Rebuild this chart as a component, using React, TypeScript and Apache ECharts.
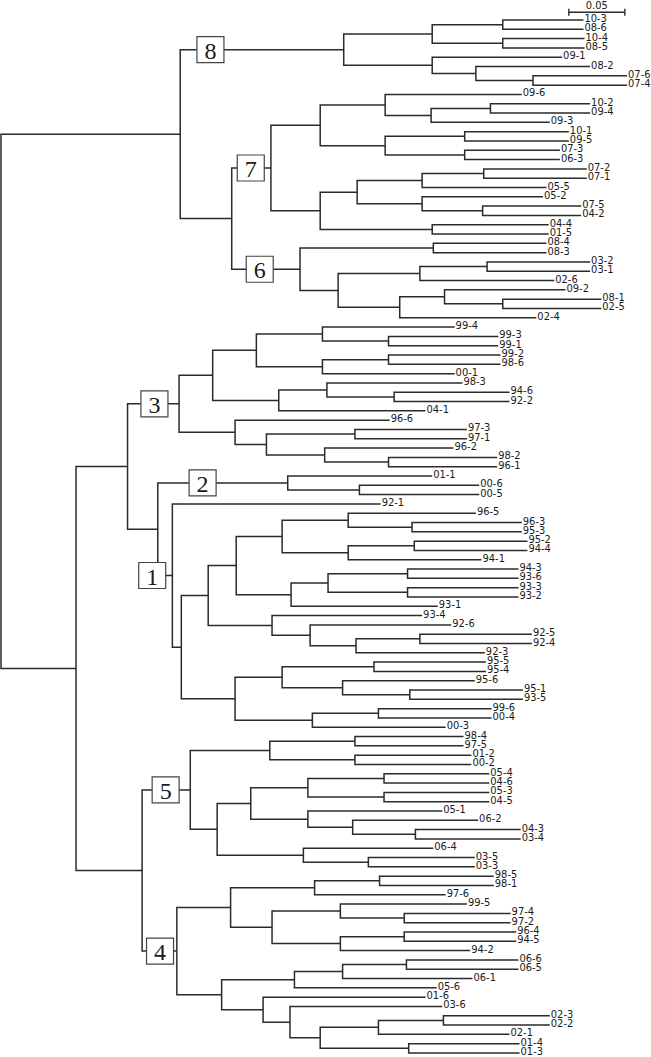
import React, { useEffect, useRef } from "react";
import * as echarts from "echarts";

// Leaf: [label, depth]; internal node: [childA, childB, depth] (depth = distance from root)
const clade8: any = [
  [[["10-3", 0.52], ["08-6", 0.52], 0.448], [["10-4", 0.521], ["08-5", 0.521], 0.448], 0.385],
  [["09-1", 0.501], [["08-2", 0.526], [["07-6", 0.559], ["07-4", 0.559], 0.475], 0.424], 0.385],
  0.306,
];

const clade7: any = [
  [
    [["09-6", 0.465], [[["10-2", 0.526], ["09-4", 0.526], 0.437], ["09-3", 0.49], 0.384], 0.343],
    [[["10-1", 0.507], ["09-5", 0.507], 0.414], [["07-3", 0.499], ["06-3", 0.499], 0.414], 0.343],
    0.285,
  ],
  [
    [
      [[["07-2", 0.523], ["07-1", 0.523], 0.431], ["05-5", 0.487], 0.376],
      [["05-2", 0.484], [["07-5", 0.518], ["04-2", 0.518], 0.43], 0.376],
      0.318,
    ],
    [["04-4", 0.489], ["01-5", 0.489], 0.385],
    0.285,
  ],
  0.241,
];

const clade6: any = [
  [["08-4", 0.487], ["08-3", 0.487], 0.386],
  [
    [[["03-2", 0.526], ["03-1", 0.526], 0.434], ["02-6", 0.494], 0.374],
    [[["09-2", 0.504], [["08-1", 0.536], ["02-5", 0.536], 0.448], 0.396], ["02-4", 0.478], 0.356],
    0.301,
  ],
  0.267,
];

const clade3: any = [
  [
    [
      [["99-4", 0.405], [["99-3", 0.444], ["99-1", 0.444], 0.346], 0.287],
      [[["99-2", 0.446], ["98-6", 0.446], 0.346], ["00-1", 0.405], 0.287],
      0.228,
    ],
    [[["98-3", 0.412], [["94-6", 0.454], ["92-2", 0.454], 0.351], 0.291], ["04-1", 0.379], 0.248],
    0.189,
  ],
  [
    ["96-6", 0.347],
    [
      [["97-3", 0.416], ["97-1", 0.416], 0.316],
      [["96-2", 0.404], [["98-2", 0.443], ["96-1", 0.443], 0.346], 0.289],
      0.237,
    ],
    0.209,
  ],
  0.159,
];

const clade2: any = [["01-1", 0.385], [["00-6", 0.427], ["00-5", 0.427], 0.32], 0.256];

const clade1: any = [
  ["92-1", 0.339],
  [
    [
      [
        [
          [["96-5", 0.424], [["96-3", 0.465], ["95-3", 0.465], 0.367], 0.31],
          [[["95-2", 0.47], ["94-4", 0.47], 0.369], ["94-1", 0.429], 0.31],
          0.251,
        ],
        [
          [[["94-3", 0.462], ["93-6", 0.462], 0.363], [["93-3", 0.462], ["93-2", 0.462], 0.363], 0.292],
          ["93-1", 0.39],
          0.259,
        ],
        0.21,
      ],
      [
        ["93-4", 0.376],
        [["92-6", 0.402], [[["92-5", 0.474], ["92-4", 0.474], 0.374], ["92-3", 0.432], 0.317], 0.276],
        0.242,
      ],
      0.185,
    ],
    [
      [
        [["95-5", 0.433], ["95-4", 0.433], 0.333],
        [["95-6", 0.423], [["95-1", 0.466], ["93-5", 0.466], 0.365], 0.305],
        0.251,
      ],
      [[["99-6", 0.438], ["00-4", 0.438], 0.337], ["00-3", 0.397], 0.278],
      0.209,
    ],
    0.161,
  ],
  0.153,
];

const clade5: any = [
  [[["98-4", 0.413], ["97-5", 0.413], 0.316], [["01-2", 0.42], ["00-2", 0.42], 0.316], 0.24],
  [
    [
      [[["05-4", 0.436], ["04-6", 0.436], 0.342], [["05-3", 0.436], ["04-5", 0.436], 0.342], 0.274],
      [["05-1", 0.394], [["06-2", 0.426], [["04-3", 0.464], ["03-4", 0.464], 0.37], 0.314], 0.274],
      0.223,
    ],
    [["06-4", 0.386], [["03-5", 0.423], ["03-3", 0.423], 0.328], 0.27],
    0.193,
  ],
  0.169,
];

const clade4: any = [
  [
    [[["98-5", 0.44], ["98-1", 0.44], 0.338], ["97-6", 0.397], 0.28],
    [
      [["99-5", 0.416], [["97-4", 0.455], ["97-2", 0.455], 0.36], 0.303],
      [[["96-4", 0.46], ["94-5", 0.46], 0.36], ["94-2", 0.419], 0.303],
      0.242,
    ],
    0.205,
  ],
  [
    [[[["06-6", 0.462], ["06-5", 0.462], 0.362], ["06-1", 0.421], 0.305], ["05-6", 0.389], 0.262],
    [
      ["01-6", 0.379],
      [
        ["03-6", 0.394],
        [
          [[["02-3", 0.49], ["02-2", 0.49], 0.395], ["02-1", 0.454], 0.337],
          [["01-4", 0.463], ["01-3", 0.463], 0.364],
          0.285,
        ],
        0.258,
      ],
      0.234,
    ],
    0.197,
  ],
  0.157,
];

const nodeA: any = [clade8, [clade7, clade6, 0.206], 0.16];
const nodeC: any = [clade3, [clade2, clade1, 0.14], 0.113];
const nodeE: any = [clade5, clade4, 0.126];
const nodeB: any = [nodeC, nodeE, 0.067];
const treeRoot: any = [nodeA, nodeB, 0];

const boxLabels = ["8", "7", "6", "3", "2", "1", "5", "4"];
const boxClades = [clade8, clade7, clade6, clade3, clade2, clade1, clade5, clade4];
const boxDepths = [0.187, 0.223, 0.231, 0.137, 0.18, 0.135, 0.147, 0.142];

const scaleBarLength = 0.05;
const scaleBarLabel = "0.05";

const isLeaf = (n: any) => typeof n[0] === "string";
const depthOf = (n: any) => (isLeaf(n) ? n[1] : n[2]);

function layoutTree(root: any) {
  const leaves: { label: string; depth: number; y: number }[] = [];
  const brackets: number[][] = [];
  const nodeY = new Map<any, number>();
  let counter = 0;
  const walk = (n: any): number => {
    if (isLeaf(n)) {
      const y = counter++;
      leaves.push({ label: n[0], depth: n[1], y });
      nodeY.set(n, y);
      return y;
    }
    const ya = walk(n[0]);
    const yb = walk(n[1]);
    const y = (ya + yb) / 2;
    brackets.push([n[2], ya, depthOf(n[0]), yb, depthOf(n[1])]);
    nodeY.set(n, y);
    return y;
  };
  walk(root);
  return { leaves, brackets, nodeY, count: counter };
}

export default function App() {
  const ref = useRef<HTMLDivElement>(null);
  useEffect(() => {
    if (!ref.current) return;
    const chart = echarts.init(ref.current, undefined, { renderer: "svg" });
    const { leaves, brackets, nodeY, count } = layoutTree(treeRoot);
    const lineColor = "#2b2b2b";
    const xMax = 0.58;
    const pxPerUnit = 1120;
    const rowPx = 9.306;
    const boxData = boxClades.map((c, i) => [boxDepths[i], nodeY.get(c) as number, i]);
    const scaleStart = 0.507;
    const scaleRow = -0.83;
    const labelFont = "'DejaVu Sans Condensed', 'DejaVu Sans', sans-serif";

    chart.setOption({
      animation: false,
      grid: { left: 1, top: 20, width: xMax * pxPerUnit, height: (count - 1) * rowPx },
      xAxis: { type: "value", min: 0, max: xMax, show: false, splitLine: { show: false } },
      yAxis: { type: "value", min: 0, max: count - 1, inverse: true, show: false, splitLine: { show: false } },
      series: [
        {
          type: "custom",
          z: 2,
          clip: false,
          data: brackets,
          renderItem: (params: any, api: any) => {
            const p = api.value(0);
            const ya = api.value(1);
            const xa = api.value(2);
            const yb = api.value(3);
            const xb = api.value(4);
            const pts = [api.coord([xa, ya]), api.coord([p, ya]), api.coord([p, yb]), api.coord([xb, yb])];
            return {
              type: "polyline",
              shape: { points: pts },
              style: { stroke: lineColor, lineWidth: 1.5, fill: "none" },
            };
          },
        },
        {
          type: "custom",
          z: 3,
          clip: false,
          data: leaves.map((l) => [l.depth, l.y]),
          renderItem: (params: any, api: any) => {
            const pt = api.coord([api.value(0), api.value(1)]);
            return {
              type: "text",
              x: pt[0] + 1,
              y: pt[1] - 1.5,
              style: {
                text: leaves[params.dataIndex].label,
                fill: "#1a1a1a",
                fontSize: 11,
                fontFamily: labelFont,
                align: "left",
                verticalAlign: "middle",
              },
            };
          },
        },
        {
          type: "custom",
          z: 4,
          clip: false,
          data: boxData,
          renderItem: (params: any, api: any) => {
            const pt = api.coord([api.value(0), api.value(1)]);
            return {
              type: "group",
              x: pt[0],
              y: pt[1],
              children: [
                {
                  type: "rect",
                  shape: { x: -13.5, y: -13, width: 27, height: 26 },
                  style: { fill: "#fff", stroke: "#444", lineWidth: 1.2 },
                },
                {
                  type: "text",
                  x: 0,
                  y: 1,
                  style: {
                    text: boxLabels[params.dataIndex],
                    fill: "#1a1a1a",
                    fontSize: 24,
                    fontFamily: "'Liberation Serif', serif",
                    align: "center",
                    verticalAlign: "middle",
                  },
                },
              ],
            };
          },
        },
        {
          type: "custom",
          z: 4,
          clip: false,
          data: [[scaleStart, scaleStart + scaleBarLength, scaleRow]],
          renderItem: (params: any, api: any) => {
            const a = api.coord([api.value(0), api.value(2)]);
            const b = api.coord([api.value(1), api.value(2)]);
            const st = { stroke: lineColor, lineWidth: 1.4 };
            return {
              type: "group",
              children: [
                { type: "line", shape: { x1: a[0], y1: a[1], x2: b[0], y2: b[1] }, style: st },
                { type: "line", shape: { x1: a[0], y1: a[1] - 3.5, x2: a[0], y2: a[1] + 3.5 }, style: st },
                { type: "line", shape: { x1: b[0], y1: b[1] - 3.5, x2: b[0], y2: b[1] + 3.5 }, style: st },
                {
                  type: "text",
                  x: (a[0] + b[0]) / 2,
                  y: a[1] - 7,
                  style: {
                    text: scaleBarLabel,
                    fill: "#1a1a1a",
                    fontSize: 11,
                    fontFamily: labelFont,
                    align: "center",
                    verticalAlign: "middle",
                  },
                },
              ],
            };
          },
        },
      ],
    });
    return () => chart.dispose();
  }, []);
  return (
    <div
      ref={ref}
      style={{ position: "absolute", left: 0, top: 0, width: 651, height: 1057, background: "#fff" }}
    />
  );
}
